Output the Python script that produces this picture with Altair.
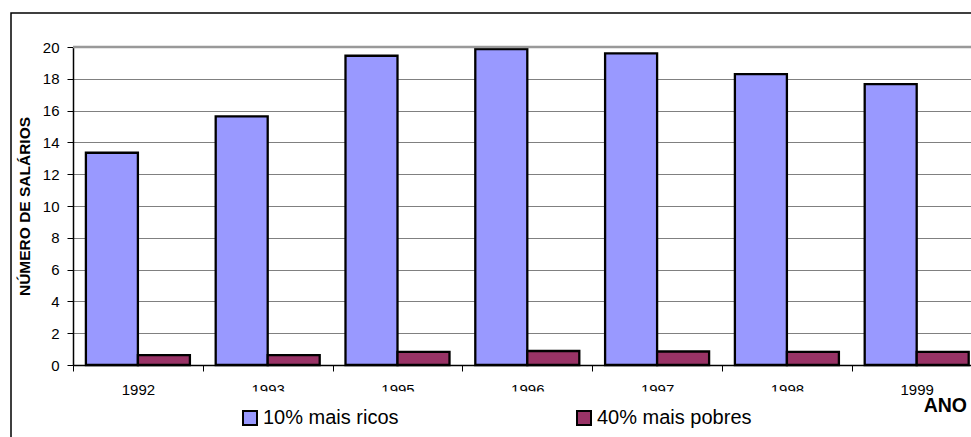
import altair as alt
import pandas as pd

# Salary multiples per year for the richest 10% and poorest 40%
years = ["1992", "1993", "1995", "1996", "1997", "1998", "1999"]
rich = [13.35, 15.64, 19.45, 19.87, 19.6, 18.3, 17.67]
poor = [0.62, 0.62, 0.83, 0.88, 0.85, 0.83, 0.82]
series = ["10% mais ricos", "40% mais pobres"]
colors = ["#9999FF", "#993366"]
y_ticks = list(range(0, 21, 2))

rows = []
for yr, r, p in zip(years, rich, poor):
    rows.append({"ano": yr, "grupo": series[0], "valor": r})
    rows.append({"ano": yr, "grupo": series[1], "valor": p})
df = pd.DataFrame(rows)

FONT = "Liberation Sans"
W, H = 898, 318
STEP = 129.8
PAD_L, PAD_T = 73, 47

x_enc = alt.X(
    "ano:N",
    sort=years,
    scale=alt.Scale(range=[0, STEP * len(years)], paddingInner=0, paddingOuter=0),
    axis=alt.Axis(
        title="ANO",
        titleFont=FONT,
        titleFontSize=19.5,
        titleFontWeight="bold",
        titleColor="black",
        titleAlign="right",
        titleBaseline="alphabetic",
        titleX=893.5,
        titleY=46.5,
        labelAngle=0,
        labelFont=FONT,
        labelFontSize=15,
        labelColor="black",
        labelPadding=11,
        tickBand="extent",
        tickSize=6,
        tickColor="black",
        domainColor="black",
        domainWidth=1.5,
        grid=False,
    ),
)

y_scale = alt.Scale(domain=[0, 20], nice=False)
y_axis = alt.Axis(
    values=y_ticks,
    tickCount=len(y_ticks),
    labelOverlap=False,
    title="NÚMERO DE SALÁRIOS",
    titleFont=FONT,
    titleFontSize=15.5,
    titleFontWeight="bold",
    titleColor="black",
    titleAngle=270,
    titleAlign="center",
    titleBaseline="middle",
    titleX=-49,
    titleY=H / 2,
    labelFont=FONT,
    labelFontSize=15,
    labelColor="black",
    labelPadding=8,
    tickSize=6,
    tickColor="black",
    domainColor="black",
    domainWidth=1.5,
    grid=True,
    gridColor="#808080",
    gridWidth=1,
)

bars = alt.Chart(df).mark_bar(stroke="black", strokeWidth=2.3).encode(
    x=x_enc,
    xOffset=alt.XOffset(
        "grupo:N", sort=series, scale=alt.Scale(paddingOuter=0.248, paddingInner=0)
    ),
    y=alt.Y("valor:Q", scale=y_scale, axis=y_axis),
    color=alt.Color(
        "grupo:N",
        scale=alt.Scale(domain=series, range=colors),
        legend=alt.Legend(
            title=None,
            orient="none",
            legendX=167,
            legendY=361,
            direction="horizontal",
            symbolType="square",
            symbolSize=196,
            symbolStrokeColor="black",
            symbolStrokeWidth=2,
            symbolOpacity=1,
            labelFont=FONT,
            labelFontSize=20,
            labelColor="black",
            labelOffset=3,
            columnPadding=174,
            padding=0,
        ),
    ),
)

# plot-area top border at the 20 line
top_line = alt.Chart().mark_rule(color="#999999", strokeWidth=2.5).encode(
    y=alt.Y(datum=20, scale=y_scale, axis=y_axis)
)

# white legend box hiding the lower half of the inner year labels
legend_box = alt.Chart().mark_rect(fill="white").encode(
    x=alt.value(215 - PAD_L),
    x2=alt.value(860 - PAD_L),
    y=alt.value(391.5 - PAD_T),
    y2=alt.value(460 - PAD_T),
)

# outer chart frame
frame = alt.Chart().mark_rect(fillOpacity=0, stroke="black", strokeWidth=1.5).encode(
    x=alt.value(11 - PAD_L),
    x2=alt.value(1000 - PAD_L),
    y=alt.value(13 - PAD_T),
    y2=alt.value(470 - PAD_T),
)

chart = (
    alt.layer(bars, top_line, legend_box, frame)
    .properties(
        width=W,
        height=H,
        autosize=alt.AutoSizeParams(type="none"),
        padding={"left": PAD_L, "top": PAD_T, "right": 0, "bottom": 437 - PAD_T - H},
        background="white",
    )
    .configure_view(stroke=None)
)

chart.save("out.html", embed_options={"renderer": "svg", "actions": False})
